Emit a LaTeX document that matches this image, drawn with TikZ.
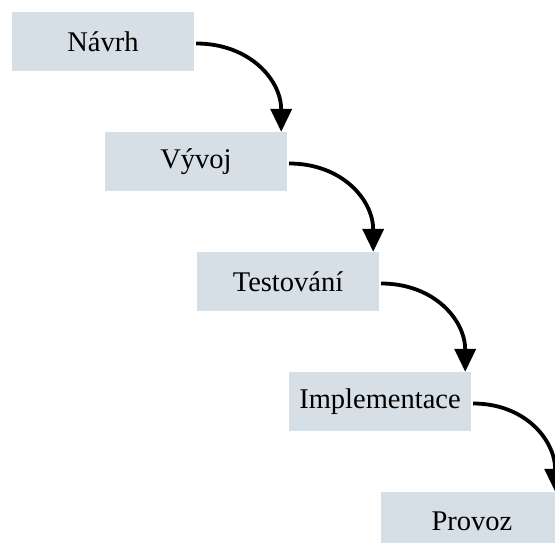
\documentclass[tikz,border=0pt]{standalone}
\usepackage{fontspec}
\setmainfont{Liberation Serif}
\usetikzlibrary{arrows.meta}
\definecolor{boxfill}{RGB}{214,223,229}
\tikzset{
  stage/.style={fill=boxfill, draw=none, minimum width=182pt, minimum height=59pt,
    inner sep=0pt, font=\fontsize{28.5}{30}\selectfont},
  flow/.style={line width=3.8pt, -{Triangle[length=23pt,width=21pt]}, looseness=1.1}
}
\begin{document}
\begin{tikzpicture}[x=1pt,y=-1pt]
\useasboundingbox (0,0) rectangle (555,542);
\clip (0,0) rectangle (555,542);
\node[stage] (a) at (103,41.5) {Návrh};
\node[stage] (b) at (196,161.5) {Vývoj};
\node[stage] (c) at (288,281.5) {Testování};
\node[stage] (d) at (380,401.5) {Implementace};
\node[stage] (e) at (472,521.5) {Provoz};
\draw[flow] ([xshift=2pt,yshift=-2pt]a.east) to[out=0,in=90] ([xshift=-6pt]b.north east);
\draw[flow] ([xshift=2pt,yshift=-2pt]b.east) to[out=0,in=90] ([xshift=-6pt]c.north east);
\draw[flow] ([xshift=2pt,yshift=-2pt]c.east) to[out=0,in=90] ([xshift=-6pt]d.north east);
\draw[flow] ([xshift=2pt,yshift=-2pt]d.east) to[out=0,in=90] ([xshift=-8pt]e.north east);
\end{tikzpicture}
\end{document}
